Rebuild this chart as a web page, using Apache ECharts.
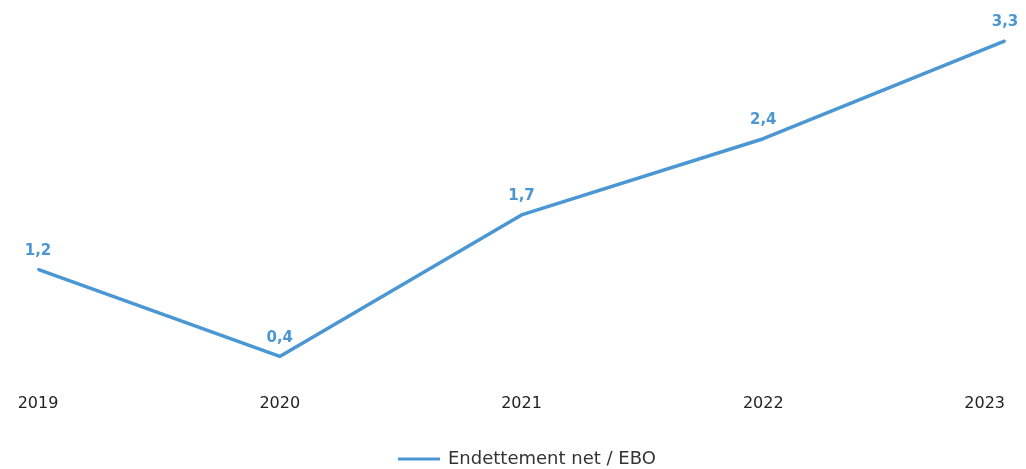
<!DOCTYPE html>
<html><head><meta charset="utf-8">
<script src="https://cdn.jsdelivr.net/npm/echarts@6/dist/echarts.min.js"></script>
<style>html,body{margin:0;padding:0;background:#fff}#c{width:1026px;height:469px}</style>
</head><body><div id="c"></div>
<script>
const categories = ['2019','2020','2021','2022','2023'];
const seriesName = 'Endettement net / EBO';
const values = [1.2, 0.4, 1.7, 2.4, 3.3];
const chart = echarts.init(document.getElementById('c'));
chart.setOption({
  animation: false,
  textStyle: { fontFamily: '"DejaVu Sans", sans-serif' },
  legend: {
    bottom: 1, left: 398, padding: 0,
    itemWidth: 42, itemHeight: 3, itemGap: 10,
    icon: 'rect',
    itemStyle: { color: '#4a97d4', opacity: 1 },
    textStyle: { fontSize: 18, color: '#333', fontFamily: '"DejaVu Sans", sans-serif', padding: [0,0,0,3] },
    data: [seriesName]
  },
  grid: { left: 38, right: 21, top: 19, bottom: 69, containLabel: false },
  xAxis: {
    type: 'category', data: categories, boundaryGap: false,
    axisLine: { show: false }, axisTick: { show: false },
    axisLabel: { fontSize: 16, color: '#222', margin: -4, alignMaxLabel: 'right', fontFamily: '"DejaVu Sans", sans-serif' }
  },
  yAxis: {
    type: 'value', min: 0, max: 3.5, show: false,
    splitLine: { show: false }
  },
  series: [{
    name: seriesName, type: 'line', data: values,
    showSymbol: true, symbol: 'circle', symbolSize: 2,
    lineStyle: { color: '#4a97d4', width: 3.5 },
    itemStyle: { color: '#4a97d4' },
    label: {
      show: true, position: 'top', distance: 10,
      color: '#4a97d4', fontWeight: 'bold', fontSize: 15,
      fontFamily: '"DejaVu Sans", sans-serif',
      formatter: p => String(p.value).replace('.', ',')
    }
  }]
});
</script></body></html>
